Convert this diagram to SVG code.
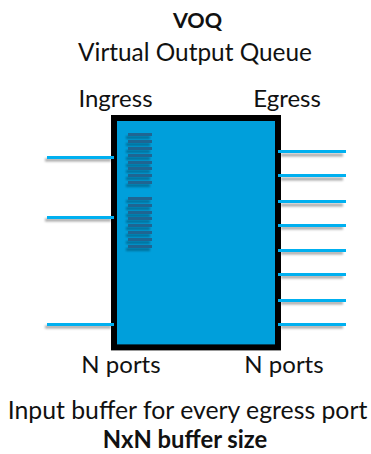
<svg xmlns="http://www.w3.org/2000/svg" width="371" height="454" viewBox="0 0 371 454">
<style>
text{font-family:"Lato","Open Sans",sans-serif;font-size:24px;fill:#111;text-anchor:middle}
.b{font-weight:700;font-size:21.500px}
.c{stroke:#00b0f0;stroke-width:3;fill:none}
.s{stroke:#000;stroke-opacity:.35;stroke-width:3;fill:none;filter:url(#blur)}
.st{fill:#1f6592}
.ss{fill:#000;fill-opacity:.3;filter:url(#blur)}
</style>
<defs><filter id="blur" x="-20%" y="-300%" width="140%" height="700%"><feGaussianBlur stdDeviation="1.3"/></filter></defs>
<rect width="371" height="454" fill="#fff"/>
<g id="title"><text x="197.500" y="28" class="b">VOQ</text><text x="195" y="61" style="font-size:24.400px">Virtual Output Queue</text></g>
<g id="switch"><rect x="114" y="118" width="164" height="229.400" fill="#009fdb" stroke="#000" stroke-width="6"/></g>
<g id="buffers">
<path class="ss" d="M126 136h24v3h-24zM126 143h24v3h-24zM126 150h24v3h-24zM126 157h24v3h-24zM126 164h24v3h-24zM126 170h24v3h-24zM126 177h24v3h-24zM126 184h24v3h-24zM126 200h24v3h-24zM126 207h24v3h-24zM126 214h24v3h-24zM126 220h24v3h-24zM126 227h24v3h-24zM126 234h24v3h-24zM126 241h24v3h-24zM126 248h24v3h-24z"/>
<path class="st" d="M128 133h24v3h-24zM128 140h24v3h-24zM128 147h24v3h-24zM128 154h24v3h-24zM128 161h24v3h-24zM128 167h24v3h-24zM128 174h24v3h-24zM128 181h24v3h-24zM128 197h24v3h-24zM128 204h24v3h-24zM128 211h24v3h-24zM128 217h24v3h-24zM128 224h24v3h-24zM128 231h24v3h-24zM128 238h24v3h-24zM128 245h24v3h-24z"/>
</g>
<g id="connectors">
<path class="s" d="M45 160h66M45 220h66M45 327h66M281 155h62M281 179h62M281 205h62M281 228h62M281 253h62M281 277h62M281 303h62M281 327h62"/>
<path class="c" d="M47 157.500h67M47 217.500h67M47 324.500h67M278 151.500h68M278 175.500h68M278 201.500h68M278 225.500h68M278 250.500h68M278 274.500h68M278 300.500h68M278 324.500h68"/>
</g>
<g id="labels">
<text x="115.500" y="107">Ingress</text><text x="287" y="107">Egress</text>
<text x="121" y="373">N ports</text><text x="284" y="373">N ports</text>
<text x="187.500" y="419" style="font-size:24.800px">Input buffer for every egress port</text>
<text x="185" y="448" class="b" style="font-size:23.800px">NxN buffer size</text>
</g>
</svg>
